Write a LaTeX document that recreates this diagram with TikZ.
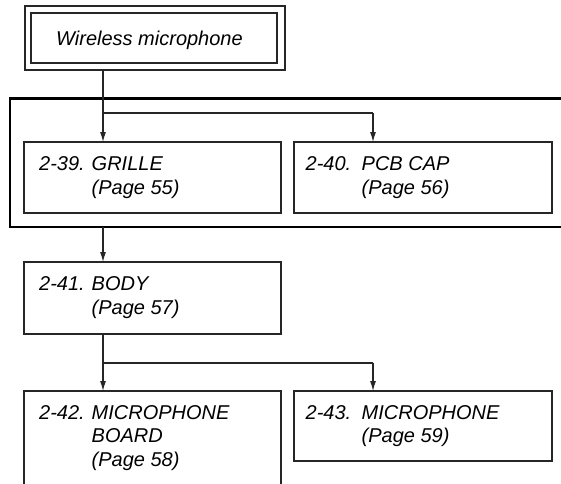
\documentclass[tikz,border=0pt]{standalone}
\usepackage{fontspec}
\setmainfont{Liberation Sans}
\usetikzlibrary{arrows.meta}
\begin{document}
\begin{tikzpicture}[x=1pt,y=-1pt,
  line/.style={draw=black!85, line width=1.1pt},
  boxnode/.style={line, rectangle, anchor=north west, inner sep=0pt, outer sep=0pt},
  txt/.style={anchor=base west, inner sep=0pt, font=\fontsize{20}{22}\selectfont\itshape},
  arr/.style={line, -{Latex[length=10pt,width=6pt]}},
  frame/.style={draw=black, line width=2.8pt}]
\clip (0,0) rectangle (561,483);
\useasboundingbox (0,0) rectangle (561,483);
% top double box
\node[boxnode, minimum width=260pt, minimum height=64pt] (wout) at (25,6) {};
\node[boxnode, minimum width=246pt, minimum height=50pt] (win) at (31,13) {};
\node[txt] (wtxt) at (56,45.5) {Wireless microphone};
% thick frame
\coordinate (fr1) at (570,98.5);
\coordinate (fr2) at (10,98.5);
\coordinate (fr3) at (10,227);
\coordinate (fr4) at (570,227);
\draw[frame] (fr1) -- (fr2) -- (fr3) -- (fr4);
% boxes
\node[boxnode, minimum width=257pt, minimum height=71pt] (b39) at (24,142) {};
\node[boxnode, minimum width=258pt, minimum height=71pt] (b40) at (294,142) {};
\node[boxnode, minimum width=257pt, minimum height=72pt] (b41) at (24,262) {};
\node[boxnode, minimum width=257pt, minimum height=110pt] (b42) at (24,391) {};
\node[boxnode, minimum width=258pt, minimum height=70pt] (b43) at (294,391) {};
% texts
\node[txt] (n39) at (39,170) {2-39.};
\node[txt] (t39a) at (91.5,170) {GRILLE};
\node[txt] (t39b) at (91.5,194) {(Page 55)};
\node[txt] (n40) at (305.5,170) {2-40.};
\node[txt] (t40a) at (361.5,170) {PCB CAP};
\node[txt] (t40b) at (361.5,194) {(Page 56)};
\node[txt] (n41) at (39,290) {2-41.};
\node[txt] (t41a) at (91.5,290) {BODY};
\node[txt] (t41b) at (91.5,314) {(Page 57)};
\node[txt] (n42) at (39,419) {2-42.};
\node[txt] (t42a) at (91.5,419) {MICROPHONE};
\node[txt] (t42b) at (91.5,442.5) {BOARD};
\node[txt] (t42c) at (91.5,466) {(Page 58)};
\node[txt] (n43) at (305.5,419) {2-43.};
\node[txt] (t43a) at (361.5,419) {MICROPHONE};
\node[txt] (t43b) at (361.5,442.5) {(Page 59)};
% connectors
\coordinate (j1) at (103,113);
\coordinate (j1r) at (373,113);
\draw[line] (wout.south -| j1) -- (j1);
\draw[arr] (j1) -- (j1 |- b39.north);
\draw[line] (j1) -- (j1r);
\draw[arr] (j1r) -- (j1r |- b40.north);
\coordinate (fb) at (103,227);
\draw[arr] (fb) -- (fb |- b41.north);
\coordinate (j2) at (103,363);
\coordinate (j2r) at (373,363);
\draw[line] (b41.south -| j2) -- (j2);
\draw[arr] (j2) -- (j2 |- b42.north);
\draw[line] (j2) -- (j2r);
\draw[arr] (j2r) -- (j2r |- b43.north);
\end{tikzpicture}
\end{document}
